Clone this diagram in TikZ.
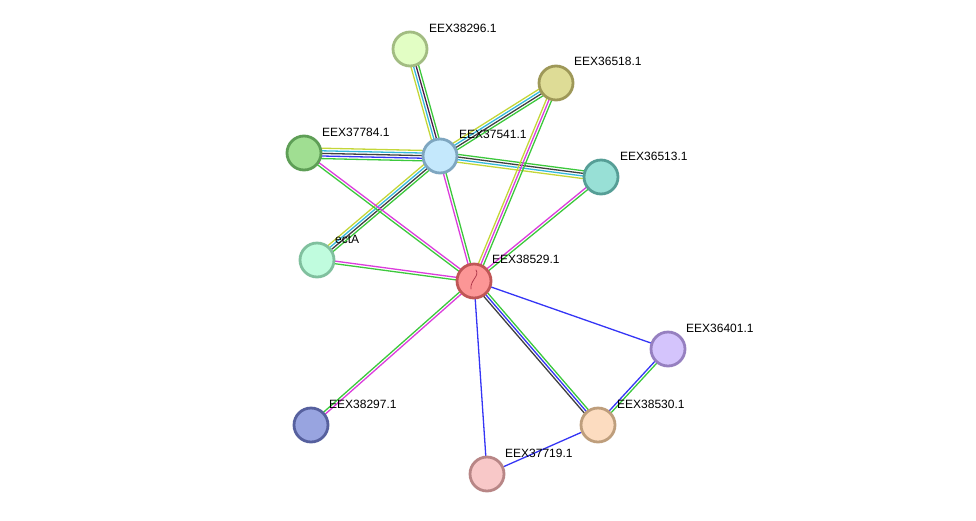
\documentclass[tikz,border=0pt]{standalone}
\usepackage{fontspec}
\setmainfont{Liberation Sans}
\usetikzlibrary{calc,backgrounds}
\definecolor{cnbh}{HTML}{3CC83C}
\definecolor{cblue}{HTML}{3535F5}
\definecolor{cblack}{HTML}{404040}
\definecolor{cmag}{HTML}{DC3CDC}
\definecolor{ccyan}{HTML}{35B8DC}
\definecolor{cyel}{HTML}{C4D638}
\definecolor{cdpur}{HTML}{4A1E4A}
\tikzset{
  prot/.style={circle, minimum size=34pt, inner sep=0pt, line width=2.8pt},
  lbl/.style={anchor=west, inner sep=0pt, font=\fontsize{12}{14}\selectfont},
  edgeline/.style={line width=1.3pt},
}
\newcommand{\medge}[4]{% from, to, count, colours
  \foreach \c [count=\i] in {#4} {
    \pgfmathsetlengthmacro{\off}{(\i-(#3+1)/2)*2.6pt}
    \draw[edgeline, color=\c] ($(#1)!\off!90:(#2)$) -- ($(#2)!\off!-90:(#1)$);
  }}
\begin{document}
\begin{tikzpicture}[x=1pt,y=-1pt]
\useasboundingbox (0,0) rectangle (976,520);
% nodes
\node[prot, fill={rgb,255:red,226;green,254;blue,196}, draw={rgb,255:red,162;green,188;blue,130}] (n38296) at (410,49) {};
\node[prot, fill={rgb,255:red,222;green,220;blue,150}, draw={rgb,255:red,158;green,152;blue,88}] (n36518) at (556,83) {};
\node[prot, fill={rgb,255:red,160;green,222;blue,146}, draw={rgb,255:red,94;green,158;blue,86}] (n37784) at (304,153) {};
\node[prot, fill={rgb,255:red,196;green,232;blue,252}, draw={rgb,255:red,126;green,166;blue,192}] (n37541) at (440,156) {};
\node[prot, fill={rgb,255:red,152;green,224;blue,214}, draw={rgb,255:red,86;green,158;blue,150}] (n36513) at (601,177) {};
\node[prot, fill={rgb,255:red,192;green,252;blue,222}, draw={rgb,255:red,128;green,192;blue,158}] (nectA) at (317,260) {};
\node[prot, fill={rgb,255:red,252;green,150;blue,150}, draw={rgb,255:red,192;green,86;blue,86}] (n38529) at (474,281) {};
\node[prot, fill={rgb,255:red,212;green,196;blue,252}, draw={rgb,255:red,150;green,128;blue,192}] (n36401) at (668,349) {};
\node[prot, fill={rgb,255:red,152;green,164;blue,224}, draw={rgb,255:red,86;green,96;blue,158}] (n38297) at (311,425) {};
\node[prot, fill={rgb,255:red,252;green,220;blue,192}, draw={rgb,255:red,190;green,158;blue,124}] (n38530) at (598,425) {};
\node[prot, fill={rgb,255:red,248;green,200;blue,200}, draw={rgb,255:red,184;green,134;blue,134}] (n37719) at (487,474) {};
% protein structure sketch inside central node
\draw[color={rgb,255:red,170;green,50;blue,70}, line width=0.7pt, line cap=round]
  (476,270) .. controls (480,276) and (470,280) .. (471,289);
% edges
\begin{scope}[on background layer]
\medge{n38296}{n37541}{4}{cyel,ccyan,cdpur,cnbh}
\medge{n36518}{n37541}{4}{cyel,ccyan,cblack,cnbh}
\medge{n37784}{n37541}{5}{cnbh,cblue,cblack,ccyan,cyel}
\medge{n37541}{n36513}{4}{cyel,ccyan,cblack,cnbh}
\medge{nectA}{n37541}{4}{cnbh,cblack,ccyan,cyel}
\medge{n37541}{n38529}{2}{cmag,cnbh}
\medge{n37784}{n38529}{2}{cnbh,cmag}
\medge{n36518}{n38529}{3}{cyel,cmag,cnbh}
\medge{n36513}{n38529}{2}{cmag,cnbh}
\medge{nectA}{n38529}{2}{cnbh,cmag}
\medge{n38529}{n38297}{2}{cnbh,cmag}
\medge{n38529}{n36401}{1}{cblue}
\medge{n38529}{n38530}{3}{cblack,cblue,cnbh}
\medge{n38529}{n37719}{1}{cblue}
\medge{n36401}{n38530}{2}{cblue,cnbh}
\medge{n37719}{n38530}{1}{cblue}
\end{scope}
% labels
\node[lbl] (l38296) at ($(n38296)+(19,-21)$) {EEX38296.1};
\node[lbl] (l36518) at ($(n36518)+(18,-22)$) {EEX36518.1};
\node[lbl] (l37784) at ($(n37784)+(18,-21)$) {EEX37784.1};
\node[lbl] (l37541) at ($(n37541)+(19,-22)$) {EEX37541.1};
\node[lbl] (l36513) at ($(n36513)+(19,-21)$) {EEX36513.1};
\node[lbl] (lectA) at ($(nectA)+(18,-21)$) {ectA};
\node[lbl] (l38529) at ($(n38529)+(18,-22)$) {EEX38529.1};
\node[lbl] (l36401) at ($(n36401)+(18,-21)$) {EEX36401.1};
\node[lbl] (l38297) at ($(n38297)+(18,-21)$) {EEX38297.1};
\node[lbl] (l38530) at ($(n38530)+(19,-21)$) {EEX38530.1};
\node[lbl] (l37719) at ($(n37719)+(18,-21)$) {EEX37719.1};
\end{tikzpicture}
\end{document}
